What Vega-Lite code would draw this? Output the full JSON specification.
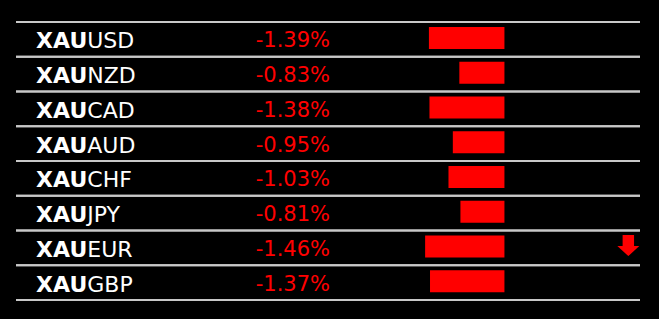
{
  "$schema": "https://vega.github.io/schema/vega-lite/v6.json",
  "width": 659,
  "height": 319,
  "autosize": {"type": "fit", "contains": "padding"},
  "padding": {"top": 21, "bottom": 18, "left": 15, "right": 18},
  "background": "#000000",
  "view": {"stroke": null},
  "data": {
    "values": [
      {"base": "XAU", "quote": "USD", "change": -1.39},
      {"base": "XAU", "quote": "NZD", "change": -0.83},
      {"base": "XAU", "quote": "CAD", "change": -1.38},
      {"base": "XAU", "quote": "AUD", "change": -0.95},
      {"base": "XAU", "quote": "CHF", "change": -1.03},
      {"base": "XAU", "quote": "JPY", "change": -0.81},
      {"base": "XAU", "quote": "EUR", "change": -1.46},
      {"base": "XAU", "quote": "GBP", "change": -1.37}
    ]
  },
  "layer": [
    {
      "mark": {"type": "bar", "color": "#ff0000", "height": 22, "yOffset": -1.5},
      "encoding": {
        "y": {"field": "quote", "type": "nominal", "sort": null, "axis": null, "scale": {"paddingInner": 0, "paddingOuter": 0}},
        "x": {
          "field": "change",
          "type": "quantitative",
          "axis": null,
          "scale": {"domain": [-8.9908, 2.4954], "nice": false, "zero": true, "padding": 0}
        }
      }
    },
    {
      "mark": {"type": "rule", "color": "#c8c8c8", "strokeWidth": 2},
      "encoding": {
        "y": {"field": "quote", "type": "nominal", "sort": null, "bandPosition": 0}
      }
    },
    {
      "mark": {"type": "rule", "color": "#c8c8c8", "strokeWidth": 2},
      "encoding": {
        "y": {"field": "quote", "type": "nominal", "sort": null, "bandPosition": 1}
      }
    },
    {
      "mark": {"type": "text", "align": "right", "baseline": "middle", "dy": 2, "font": "DejaVu Sans", "fontWeight": "bold", "fontSize": 22, "color": "#ffffff"},
      "encoding": {
        "y": {"field": "quote", "type": "nominal", "sort": null},
        "x": {"datum": -7.6789},
        "text": {"field": "base"}
      }
    },
    {
      "mark": {"type": "text", "align": "left", "baseline": "middle", "dy": 2, "font": "DejaVu Sans", "fontSize": 22, "color": "#ffffff"},
      "encoding": {
        "y": {"field": "quote", "type": "nominal", "sort": null},
        "x": {"datum": -7.6789},
        "text": {"field": "quote"}
      }
    },
    {
      "transform": [
        {"calculate": "(datum.change < 0 ? '-' : '') + format(abs(datum.change), '.2f') + '%'", "as": "pct"}
      ],
      "mark": {"type": "text", "align": "right", "baseline": "middle", "dy": 2, "font": "DejaVu Sans", "fontSize": 21, "color": "#ff0000"},
      "encoding": {
        "y": {"field": "quote", "type": "nominal", "sort": null},
        "x": {"datum": -3.211},
        "text": {"field": "pct"}
      }
    },
    {
      "transform": [
        {"filter": "datum.quote === 'EUR'"}
      ],
      "mark": {
        "type": "point",
        "shape": "M-0.52,-0.955L0.52,-0.955L0.52,0.045L1,0.045L0,0.955L-1,0.045L-0.52,0.045Z",
        "size": 484,
        "filled": true,
        "fill": "#ff0000",
        "strokeWidth": 0,
        "opacity": 1,
        "yOffset": -2.3
      },
      "encoding": {
        "y": {"field": "quote", "type": "nominal", "sort": null},
        "x": {"datum": 2.2807}
      }
    }
  ]
}
